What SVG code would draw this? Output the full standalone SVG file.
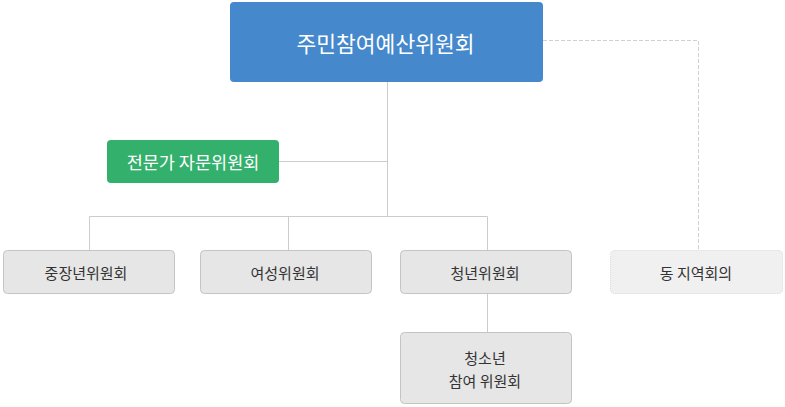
<svg xmlns="http://www.w3.org/2000/svg" width="785" height="407" viewBox="0 0 785 407">
<style>
text{font-family:"Noto Sans CJK KR","Noto Sans",sans-serif;text-anchor:middle;dominant-baseline:central}
.box{fill:#e6e6e6;stroke:#c4c4c4;stroke-width:1}
.lbl{font-size:15px;fill:#333}
.ln{stroke:#cccccc;stroke-width:1;fill:none}
.dash{stroke:#d0d0d0;stroke-width:1;fill:none;stroke-dasharray:4 2}
</style>
<rect width="785" height="407" fill="#ffffff"/>
<g id="connectors">
<path class="ln" d="M387.5 82V216.5M279 161.5H387.5M89.5 216.5H487.5M89.5 216.5V250M288.5 216.5V250M487.5 216.5V250M487.5 293V332"/>
<path class="dash" d="M543 40.5H698.5V250"/>
</g>
<g id="n-main">
<rect x="230" y="2" width="313" height="80" rx="4" fill="#4589cc"/>
<text x="385.5" y="42" font-size="21.5" fill="#ffffff">주민참여예산위원회</text>
</g>
<g id="n-expert">
<rect x="107" y="140" width="172" height="43" rx="4" fill="#33b06b"/>
<text x="193" y="161.5" font-size="17.5" fill="#ffffff">전문가 자문위원회</text>
</g>
<g id="n-middle">
<rect class="box" x="3.5" y="250.5" width="171" height="43" rx="4"/>
<text class="lbl" x="86" y="272">중장년위원회</text>
</g>
<g id="n-women">
<rect class="box" x="200.5" y="250.5" width="171" height="43" rx="4"/>
<text class="lbl" x="285" y="272">여성위원회</text>
</g>
<g id="n-youth">
<rect class="box" x="400.5" y="250.5" width="171" height="43" rx="4"/>
<text class="lbl" x="485" y="272">청년위원회</text>
</g>
<g id="n-dong">
<rect x="610.5" y="250.5" width="172" height="43" rx="4" fill="#f0f0f0" stroke="#d8d8d8" stroke-dasharray="1 1"/>
<text class="lbl" x="696" y="272">동 지역회의</text>
</g>
<g id="n-teen">
<rect class="box" x="400.5" y="332.5" width="171" height="71" rx="4"/>
<text class="lbl" x="485" y="357">청소년</text>
<text class="lbl" x="485" y="380">참여 위원회</text>
</g>
</svg>
